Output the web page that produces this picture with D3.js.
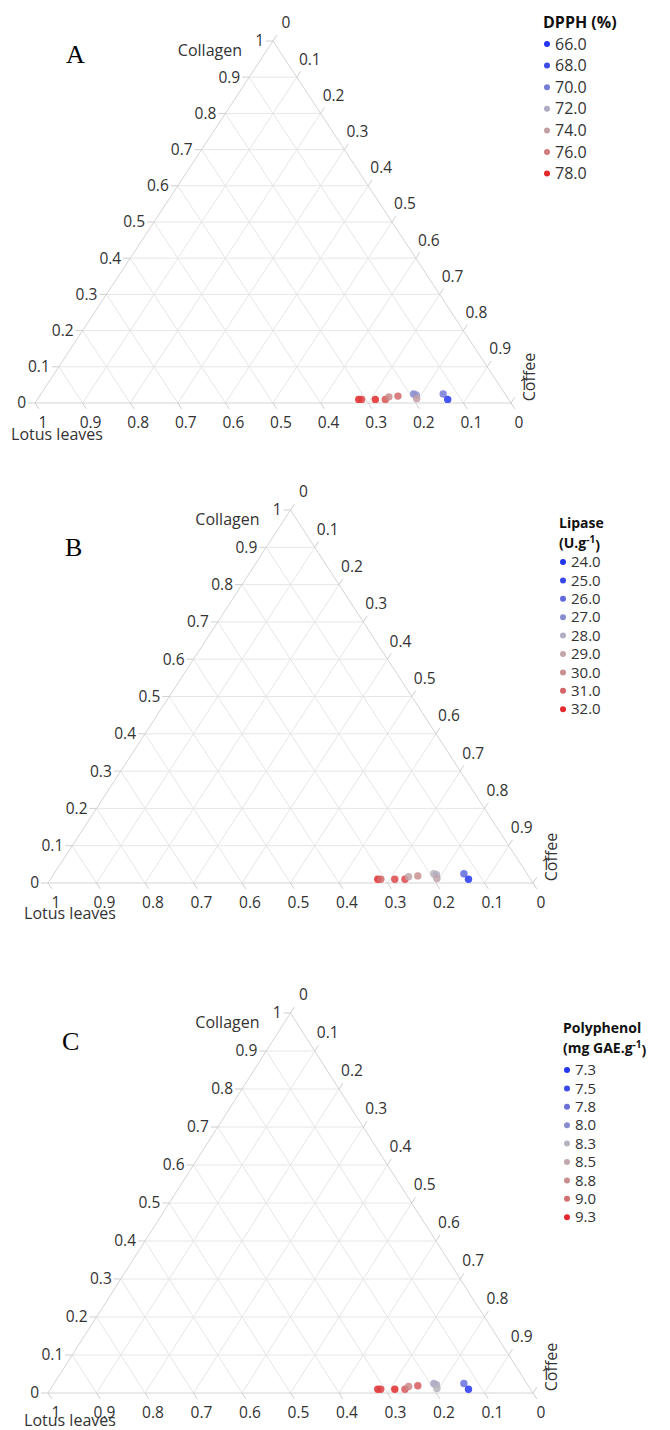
<!DOCTYPE html>
<html>
<head>
<meta charset="utf-8">
<script src="https://cdn.jsdelivr.net/npm/d3@7"></script>
<style>
  body { margin: 0; background: #fff; }
  text { font-family: "Open Sans", "Noto Sans", sans-serif; fill: #333; }
</style>
</head>
<body>
<svg id="chart" width="670" height="1430"></svg>
<script>
// mixture design points (fractions of each ingredient)
const lotus    = [0.315, 0.309, 0.280, 0.259, 0.248, 0.228, 0.192, 0.188, 0.192, 0.130, 0.128];
const coffee   = [0.675, 0.681, 0.710, 0.731, 0.735, 0.753, 0.783, 0.790, 0.796, 0.845, 0.862];
const collagen = [0.010, 0.010, 0.010, 0.010, 0.017, 0.019, 0.025, 0.022, 0.012, 0.025, 0.010];

// responses
const dpph       = [78.0, 77.5, 78.0, 77.0, 75.5, 76.5, 70.5, 71.0, 74.0, 70.0, 67.0];
const lipase     = [32.0, 31.0, 31.5, 31.5, 29.0, 30.0, 28.5, 28.0, 29.0, 26.0, 24.5];
const polyphenol = [9.3, 9.2, 9.3, 9.1, 8.9, 9.1, 8.2, 8.25, 8.3, 7.8, 7.35];

// legend levels
const dpphLevels   = [66.0, 68.0, 70.0, 72.0, 74.0, 76.0, 78.0];
const lipaseLevels = [24.0, 25.0, 26.0, 27.0, 28.0, 29.0, 30.0, 31.0, 32.0];
const polyLevels   = [7.3, 7.5, 7.8, 8.0, 8.3, 8.5, 8.8, 9.0, 9.3];

const axisTicks = d3.range(0, 11).map(i => i / 10);
const tickFmt = d => d === 0 ? "0" : d === 1 ? "1" : d3.format(".1f")(d);

const svg = d3.select("#chart");

const panels = [
  { letter: "A", values: dpph, levels: dpphLevels, title: ["DPPH (%)"],
    left: 35, right: 511, base: 403, top: 41, lotusDy: 31,
    letterX: 66, letterY: 63,
    legX: 547, legTitleY: 28, legItemY: 44, legStep: 21.6, legFont: 16 },
  { letter: "B", values: lipase, levels: lipaseLevels, title: ["Lipase", "(U.g", "-1", ")"],
    left: 48, right: 533, base: 883, top: 510, lotusDy: 30,
    letterX: 65, letterY: 556,
    legX: 563, legTitleY: 523, legItemY: 562, legStep: 18.4, legFont: 15 },
  { letter: "C", values: polyphenol, levels: polyLevels, title: ["Polyphenol", "(mg GAE.g", "-1", ")"],
    left: 48, right: 533, base: 1393, top: 1013, lotusDy: 27,
    letterX: 62, letterY: 1050,
    legX: 567, legTitleY: 1028, legItemY: 1070, legStep: 18.4, legFont: 15 }
];

panels.forEach(drawPanel);

function drawPanel(p) {
  const g = svg.append("g");
  const x = d3.scaleLinear().domain([0, 1]).range([p.left, p.right]);
  const y = d3.scaleLinear().domain([0, 1]).range([p.base, p.top]);
  // l = lotus, c = coffee, k = collagen
  const pos = (l, c, k) => [x(c + k / 2), y(k)];

  // blue -> grey -> red, red side eased in
  const lo = d3.min(p.values), hi = d3.max(p.values);
  const color = d3.scaleLinear()
    .domain([lo, lo + 0.5 * (hi - lo), lo + 0.8 * (hi - lo), hi])
    .range(["#2436f2", "#bbb7bd", "#cd8585", "#e3292c"])
    .clamp(true);

  // grid lines
  const inner = axisTicks.slice(1, 10);
  const grid = [];
  inner.forEach(t => {
    grid.push([pos(1 - t, 0, t), pos(0, 1 - t, t)]);   // collagen
    grid.push([pos(t, 1 - t, 0), pos(t, 0, 1 - t)]);   // lotus
    grid.push([pos(1 - t, t, 0), pos(0, t, 1 - t)]);   // coffee
  });
  g.append("g").selectAll("line").data(grid).join("line")
    .attr("x1", d => d[0][0]).attr("y1", d => d[0][1])
    .attr("x2", d => d[1][0]).attr("y2", d => d[1][1])
    .attr("stroke", "#e6e6e6").attr("stroke-width", 1);

  const BL = pos(1, 0, 0), BR = pos(0, 1, 0), T = pos(0, 0, 1);
  g.append("path")
    .attr("d", d3.line()([BL, BR, T, BL]) + "Z")
    .attr("fill", "none").attr("stroke", "#d4d4d4").attr("stroke-width", 1);

  const tickLen = 7;
  const norm = (v) => { const m = Math.hypot(v[0], v[1]); return [v[0] / m, v[1] / m]; };
  const dirLotus = norm([BR[0] - T[0], BR[1] - T[1]]);
  const dirCoffee = norm([T[0] - BL[0], T[1] - BL[1]]);
  const fs = 15.5;

  // collagen axis (left edge)
  axisTicks.forEach(t => {
    const [px, py] = pos(1 - t, 0, t);
    g.append("line").attr("x1", px).attr("y1", py).attr("x2", px - tickLen).attr("y2", py)
      .attr("stroke", "#cfcfcf");
    g.append("text").attr("x", px - 9).attr("y", py).attr("dy", "0.35em")
      .attr("text-anchor", "end").attr("font-size", fs).text(tickFmt(t));
  });
  // lotus axis (bottom edge)
  axisTicks.forEach(t => {
    const [px, py] = pos(t, 1 - t, 0);
    g.append("line").attr("x1", px).attr("y1", py)
      .attr("x2", px + dirLotus[0] * tickLen).attr("y2", py + dirLotus[1] * tickLen)
      .attr("stroke", "#cfcfcf");
    g.append("text").attr("x", px + 8).attr("y", py + 20).attr("dy", "0.35em")
      .attr("text-anchor", "middle").attr("font-size", fs).text(tickFmt(t));
  });
  // coffee axis (right edge)
  axisTicks.forEach(t => {
    const [px, py] = pos(0, t, 1 - t);
    g.append("line").attr("x1", px).attr("y1", py)
      .attr("x2", px + dirCoffee[0] * tickLen).attr("y2", py + dirCoffee[1] * tickLen)
      .attr("stroke", "#cfcfcf");
    g.append("text").attr("x", px + 13).attr("y", py - 18).attr("dy", "0.35em")
      .attr("text-anchor", "middle").attr("font-size", fs).text(tickFmt(t));
  });

  // axis titles
  g.append("text").attr("x", T[0] - 31).attr("y", T[1] + 9).attr("dy", "0.35em")
    .attr("text-anchor", "end").attr("font-size", 16).text("Collagen");
  g.append("text").attr("x", BL[0] + 22).attr("y", BL[1] + p.lotusDy).attr("dy", "0.35em")
    .attr("text-anchor", "middle").attr("font-size", 16).text("Lotus leaves");
  g.append("text")
    .attr("transform", `translate(${BR[0] + 18},${BR[1] - 26}) rotate(-90)`)
    .attr("dy", "0.35em").attr("text-anchor", "middle").attr("font-size", 16).text("Coffee");

  // points
  const pts = lotus.map((l, i) => ({ l, c: coffee[i], k: collagen[i], v: p.values[i] }));
  g.append("g").selectAll("circle").data(pts).join("circle")
    .attr("cx", d => pos(d.l, d.c, d.k)[0])
    .attr("cy", d => pos(d.l, d.c, d.k)[1])
    .attr("r", 3.7)
    .attr("fill", d => color(d.v))
    .attr("fill-opacity", 0.85);

  // panel letter
  svg.append("text").attr("x", p.letterX).attr("y", p.letterY)
    .style("font-family", "'Liberation Serif', 'Times New Roman', serif")
    .style("fill", "#000").attr("font-size", 26).text(p.letter);

  // legend
  const leg = svg.append("g");
  if (p.title.length === 1) {
    leg.append("text").attr("x", p.legX - 4).attr("y", p.legTitleY)
      .style("fill", "#111").attr("font-weight", "bold").attr("font-size", p.legFont)
      .text(p.title[0]);
  } else {
    leg.append("text").attr("x", p.legX - 4).attr("y", p.legTitleY).attr("dy", "0.35em")
      .style("fill", "#111").attr("font-weight", "bold").attr("font-size", p.legFont - 1)
      .text(p.title[0]);
    const t2 = leg.append("text").attr("x", p.legX - 4).attr("y", p.legTitleY + 20).attr("dy", "0.35em")
      .style("fill", "#111").attr("font-weight", "bold").attr("font-size", p.legFont - 1);
    t2.append("tspan").text(p.title[1]);
    t2.append("tspan").attr("dy", "-0.45em").attr("font-size", p.legFont - 5).text(p.title[2]);
    t2.append("tspan").attr("dy", "0.45em").text(p.title[3]);
  }
  const items = leg.selectAll("g.item").data(p.levels).join("g")
    .attr("class", "item")
    .attr("transform", (d, i) => `translate(${p.legX},${p.legItemY + i * p.legStep})`);
  items.append("circle").attr("r", 3).attr("fill", d => color(d));
  items.append("text").attr("x", 8).attr("dy", "0.35em").attr("font-size", p.legFont)
    .text(d => d.toFixed(1));
}
</script>
</body>
</html>
